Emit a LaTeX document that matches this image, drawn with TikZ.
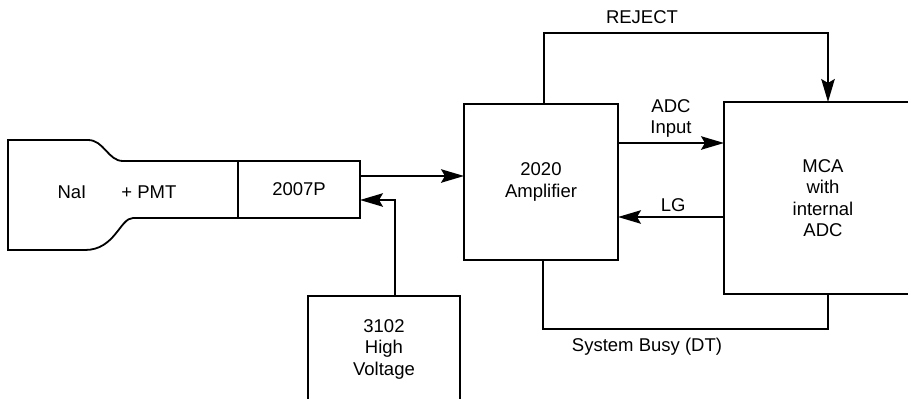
\documentclass[tikz,border=0pt]{standalone}
\usepackage{fontspec}
\setmainfont{Liberation Sans}
\usetikzlibrary{arrows.meta}

\begin{document}
\begin{tikzpicture}[x=1pt,y=-1pt,line width=1.8pt,line cap=round,
 >={Stealth[length=23pt,width=13.5pt,inset=4pt]},
 txt/.style={font=\fontsize{18.5}{21.5}\selectfont,align=center},
 box/.style={draw,rectangle,txt,inner sep=0pt,outer sep=0pt}]
 \useasboundingbox (0,0) rectangle (908,399);
 % blocks
 \node[box,minimum width=122pt,minimum height=57pt] (base) at (299,189.5) {2007P};
 \node[box,minimum width=154pt,minimum height=156pt] (amp) at (541,182) {2020\\Amplifier};
 \node[box,minimum width=198pt,minimum height=192pt] (mca) at (823,198)
  {MCA\\with\\internal\\ADC};
 \node[box,minimum width=152pt,minimum height=106pt] (hv) at (384,349)
  {3102\\High\\Voltage};
 % detector outline
 \draw (base.north west) -- (123,161) .. controls (108,161) and (104,140) .. (88,140)
  -- (8,140) -- (8,250) -- (85,250) .. controls (115,250) and (120,218) .. (133,218)
  -- (base.south west);
 \node[txt] (det) at (117,192) {NaI\hspace{1.9em}+ PMT};
 % signals
 \draw[->] ([yshift=13.5pt]base.east) -- ([yshift=13.5pt]base.east -| amp.west);
 \draw[->] ([xshift=11pt]hv.north) |- ([yshift=-10.5pt]base.east);
 \draw[->] ([yshift=39pt]amp.east) -- ([yshift=39pt]amp.east -| mca.west)
  node[txt,midway,above=1pt] (adcin) {ADC\\Input};
 \draw[->] ([yshift=-35pt]amp.east -| mca.west) -- ([yshift=-35pt]amp.east)
  node[txt,pos=.48,above=1pt] (lg) {LG};
 \draw[->] ([xshift=3pt]amp.north) -- ++(0,-71) -| ([xshift=5pt]mca.north);
 \node[txt] (rej) at (642,17) {REJECT};
 \draw ([xshift=2pt]amp.south) -- ++(0,69) -| ([xshift=5pt]mca.south);
 \node[txt] (busy) at (647,347) {System Busy (DT)};
\end{tikzpicture}
\end{document}
